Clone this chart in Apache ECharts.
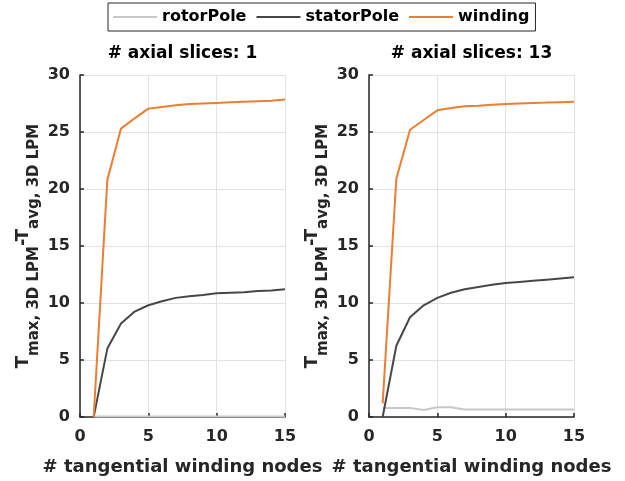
<!DOCTYPE html>
<html>
<head>
<meta charset="utf-8">
<script src="https://cdn.jsdelivr.net/npm/echarts@6/dist/echarts.min.js"></script>
<style>html,body{margin:0;padding:0;background:#fff}#c{width:625px;height:481px}</style>
</head>
<body>
<div id="c"></div>
<script>
const nodes = [1, 2, 3, 4, 5, 6, 7, 8, 9, 10, 11, 12, 13, 14, 15];
const panelTitles = ['# axial slices: 1', '# axial slices: 13'];
const seriesNames = ['rotorPole', 'statorPole', 'winding'];
const xTicks = [0, 5, 10, 15];
const yTicks = [0, 5, 10, 15, 20, 25, 30];

// panel 1: 1 axial slice
const rotorPole1 = [0.05, 0.05, 0.05, 0.05, 0.05, 0.05, 0.05, 0.05, 0.05, 0.05, 0.05, 0.05, 0.05, 0.05, 0.05];
const statorPole1 = [0, 6.0, 8.2, 9.25, 9.8, 10.15, 10.45, 10.6, 10.7, 10.85, 10.9, 10.95, 11.05, 11.1, 11.2];
const winding1 = [0, 20.8, 25.3, 26.2, 27.05, 27.2, 27.35, 27.45, 27.5, 27.55, 27.6, 27.65, 27.7, 27.75, 27.85];

// panel 2: 13 axial slices
const rotorPole13 = [0.8, 0.8, 0.8, 0.62, 0.85, 0.85, 0.65, 0.65, 0.65, 0.65, 0.65, 0.65, 0.65, 0.65, 0.65];
const statorPole13 = [0, 6.25, 8.75, 9.8, 10.45, 10.9, 11.2, 11.4, 11.6, 11.75, 11.85, 11.95, 12.05, 12.15, 12.25];
const winding13 = [1.2, 20.9, 25.2, 26.05, 26.9, 27.1, 27.25, 27.3, 27.38, 27.45, 27.5, 27.55, 27.58, 27.62, 27.65];

const FONT = 'DejaVu Sans';
const colors = { rotorPole: '#c8c8c8', statorPole: '#474747', winding: '#ed7d31' };
const grids = [
  { left: 80, top: 75, width: 205, height: 342 },
  { left: 369, top: 75, width: 205, height: 342 }
];

function pairs(vals) { return nodes.map((n, i) => [n, vals[i]]); }

function xAxisFor(i) {
  return {
    type: 'value', gridIndex: i,
    min: xTicks[0], max: xTicks[xTicks.length - 1], interval: xTicks[1] - xTicks[0],
    name: '# tangential winding nodes', nameLocation: 'middle', nameGap: 41,
    nameTextStyle: { fontFamily: FONT, fontWeight: 'bold', fontSize: 18, color: '#262626' },
    axisLine: { show: true, lineStyle: { color: '#262626', width: 1.5 } },
    axisTick: { show: true, inside: true, length: 4, lineStyle: { color: '#262626', width: 1.5 } },
    axisLabel: { margin: 12, fontFamily: FONT, fontWeight: 'bold', fontSize: 16, color: '#262626' },
    splitLine: { show: true, lineStyle: { color: '#e2e2e2', width: 1 } }
  };
}

function yAxisFor(i) {
  return {
    type: 'value', gridIndex: i,
    min: yTicks[0], max: yTicks[yTicks.length - 1], interval: yTicks[1] - yTicks[0],
    name: '{T|T}{s|max, 3D LPM}{T|-T}{s|avg, 3D LPM}',
    nameLocation: 'middle', nameRotate: 90, nameGap: 38,
    nameTextStyle: {
      fontFamily: FONT, fontWeight: 'bold', color: '#262626',
      rich: {
        T: { fontFamily: FONT, fontWeight: 'bold', fontSize: 18, verticalAlign: 'top', color: '#262626' },
        s: { fontFamily: FONT, fontWeight: 'bold', fontSize: 15, lineHeight: 28, verticalAlign: 'bottom', color: '#262626' }
      }
    },
    axisLine: { show: true, lineStyle: { color: '#262626', width: 1.5 } },
    axisTick: { show: true, inside: true, length: 4, lineStyle: { color: '#262626', width: 1.5 } },
    axisLabel: { margin: 10, fontFamily: FONT, fontWeight: 'bold', fontSize: 16, color: '#262626' },
    splitLine: { show: true, lineStyle: { color: '#e2e2e2', width: 1 } }
  };
}

function lineSeries(name, vals, idx) {
  return {
    name: name, type: 'line', xAxisIndex: idx, yAxisIndex: idx,
    data: pairs(vals), symbol: 'none', showSymbol: false,
    lineStyle: { color: colors[name], width: 2 },
    itemStyle: { color: colors[name] },
    z: name === 'winding' ? 4 : (name === 'statorPole' ? 3 : 2),
    animation: false
  };
}

const chart = echarts.init(document.getElementById('c'), null, { renderer: 'canvas' });
chart.setOption({
  backgroundColor: '#ffffff',
  animation: false,
  title: panelTitles.map((t, i) => ({
    text: t,
    left: grids[i].left + grids[i].width / 2,
    textAlign: 'center',
    top: 45, padding: 0,
    textStyle: { fontFamily: FONT, fontWeight: 'bold', fontSize: 17, color: '#000' }
  })),
  legend: {
    data: seriesNames,
    left: 108, top: 3,
    padding: [6, 6, 6, 5],
    icon: 'rect',
    itemWidth: 44, itemHeight: 2, itemGap: 10,
    borderColor: '#262626', borderWidth: 1,
    textStyle: { fontFamily: FONT, fontWeight: 'bold', fontSize: 16, color: '#000' }
  },
  grid: grids,
  xAxis: [xAxisFor(0), xAxisFor(1)],
  yAxis: [yAxisFor(0), yAxisFor(1)],
  series: [
    lineSeries('rotorPole', rotorPole1, 0),
    lineSeries('statorPole', statorPole1, 0),
    lineSeries('winding', winding1, 0),
    lineSeries('rotorPole', rotorPole13, 1),
    lineSeries('statorPole', statorPole13, 1),
    lineSeries('winding', winding13, 1)
  ]
});
</script>
</body>
</html>
